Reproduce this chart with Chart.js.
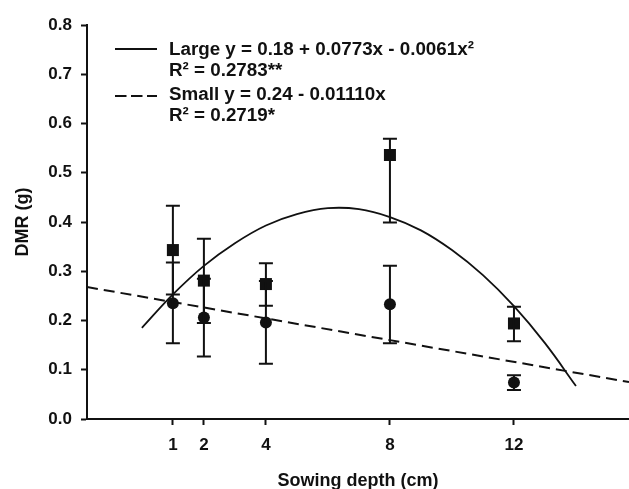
<!DOCTYPE html>
<html lang="en">
<head>
<meta charset="utf-8"/>
<title>DMR vs sowing depth</title>
<script src="https://cdn.jsdelivr.net/npm/chart.js"></script>
<style>
  body { margin: 0; background: #fff; overflow: hidden; }
  #wrap { width: 629px; height: 489px; }
</style>
</head>
<body>
<div id="wrap"><canvas id="grafik"></canvas></div>
<script>
// data
const xTicks = [1, 2, 4, 8, 12];
const depth = [1, 2, 4, 8, 12];
const largeMean = [0.343, 0.281, 0.274, 0.536, 0.194];
const largeLo   = [0.253, 0.195, 0.230, 0.399, 0.158];
const largeHi   = [0.433, 0.366, 0.316, 0.569, 0.228];
const smallMean = [0.235, 0.206, 0.196, 0.233, 0.074];
const smallLo   = [0.154, 0.127, 0.112, 0.154, 0.059];
const smallHi   = [0.318, 0.285, 0.280, 0.311, 0.089];

// fitted curves, points
const largeFitX = [0, 1, 2, 3, 4, 5, 6, 7, 8, 9, 10, 11, 12, 13, 14];
const largeFitY = [0.185, 0.253, 0.311, 0.357, 0.393, 0.416, 0.428, 0.426, 0.410, 0.383, 0.343, 0.292, 0.229, 0.154, 0.067];
const smallFitX = [-1.77, 15.71];
const smallFitY = [0.268, 0.075];

const legendRows = [
  { text: "Large y = 0.18 + 0.0773x - 0.0061x²", dash: [] },
  { text: "R² = 0.2783**", dash: null },
  { text: "Small y = 0.24 - 0.01110x", dash: [11.5, 4.5] },
  { text: "R² = 0.2719*", dash: null }
];

const fontFam = "'Liberation Sans', Arial, sans-serif";
const ink = "#111";

const pts = (xs, ys) => xs.map((x, i) => ({ x: x, y: ys[i] }));

const errorBars = {
  id: "errorBars",
  afterDatasetsDraw(chart) {
    const xs = chart.scales.x, ys = chart.scales.y, ctx = chart.ctx;
    ctx.save();
    ctx.strokeStyle = ink;
    ctx.lineWidth = 2;
    const draw = (lo, hi) => {
      depth.forEach((d, i) => {
        const px = xs.getPixelForValue(d);
        const y1 = ys.getPixelForValue(lo[i]), y2 = ys.getPixelForValue(hi[i]);
        ctx.beginPath();
        ctx.moveTo(px, y1); ctx.lineTo(px, y2);
        ctx.moveTo(px - 7, y1); ctx.lineTo(px + 7, y1);
        ctx.moveTo(px - 7, y2); ctx.lineTo(px + 7, y2);
        ctx.stroke();
      });
    };
    draw(largeLo, largeHi);
    draw(smallLo, smallHi);
    ctx.restore();
  }
};

const legendBox = {
  id: "legendBox",
  afterDraw(chart) {
    const ctx = chart.ctx;
    ctx.save();
    ctx.fillStyle = ink;
    ctx.strokeStyle = ink;
    ctx.font = "bold 18.8px " + fontFam;
    ctx.textBaseline = "middle";
    const rowY = [50, 71, 95, 116];
    const lineY = [49, null, 96, null];
    legendRows.forEach((r, i) => {
      if (r.dash) {
        ctx.lineWidth = 2;
        ctx.setLineDash(r.dash);
        ctx.beginPath();
        ctx.moveTo(115, lineY[i]); ctx.lineTo(157, lineY[i]);
        ctx.stroke();
        ctx.setLineDash([]);
      }
      ctx.fillText(r.text, 169, rowY[i]);
    });
    ctx.restore();
  }
};

new Chart(document.getElementById("grafik"), {
  type: "scatter",
  data: {
    datasets: [
      { label: "Large fit", data: pts(largeFitX, largeFitY), showLine: true, pointRadius: 0,
        borderColor: ink, borderWidth: 1.8, tension: 0.4 },
      { label: "Small fit", data: pts(smallFitX, smallFitY), showLine: true, pointRadius: 0,
        borderColor: ink, borderWidth: 2, borderDash: [11, 6] },
      { label: "Large", data: pts(depth, largeMean), pointStyle: "rect", pointRadius: 8.5,
        backgroundColor: ink, borderColor: ink, borderWidth: 0 },
      { label: "Small", data: pts(depth, smallMean), pointStyle: "circle", pointRadius: 6,
        backgroundColor: ink, borderColor: ink, borderWidth: 0 }
    ]
  },
  options: {
    responsive: true,
    maintainAspectRatio: false,
    animation: false,
    layout: { autoPadding: false, padding: { top: 25, right: 0, left: 0, bottom: 0 } },
    plugins: { legend: { display: false }, tooltip: { enabled: false } },
    scales: {
      x: {
        type: "linear", min: -1.77, max: 15.71,
        afterBuildTicks: s => { s.ticks = xTicks.map(v => ({ value: v })); },
        afterFit: s => { s.height = 70; s.paddingLeft = 0; s.paddingRight = 0; },
        grid: { drawOnChartArea: false, drawTicks: true, tickLength: 6, tickWidth: 2, tickColor: ink },
        border: { display: true, color: ink, width: 2 },
        ticks: { color: ink, font: { family: fontFam, size: 17, weight: "bold" }, padding: 10, maxRotation: 0 },
        title: { display: true, text: "Sowing depth (cm)", color: ink,
                 font: { family: fontFam, size: 18, weight: "bold" }, padding: { top: 0, bottom: -3 } }
      },
      y: {
        min: 0, max: 0.8,
        afterFit: s => { s.width = 87; },
        grid: { drawOnChartArea: false, drawTicks: true, tickLength: 6, tickWidth: 2, tickColor: ink },
        border: { display: true, color: ink, width: 2 },
        ticks: { stepSize: 0.1, color: ink, padding: 9, callback: v => v.toFixed(1),
                 font: { family: fontFam, size: 17, weight: "bold" } },
        title: { display: true, text: "DMR (g)", color: ink,
                 font: { family: fontFam, size: 18, weight: "bold" }, padding: { top: 12, bottom: 0 } }
      }
    }
  },
  plugins: [errorBars, legendBox]
});
</script>
</body>
</html>
